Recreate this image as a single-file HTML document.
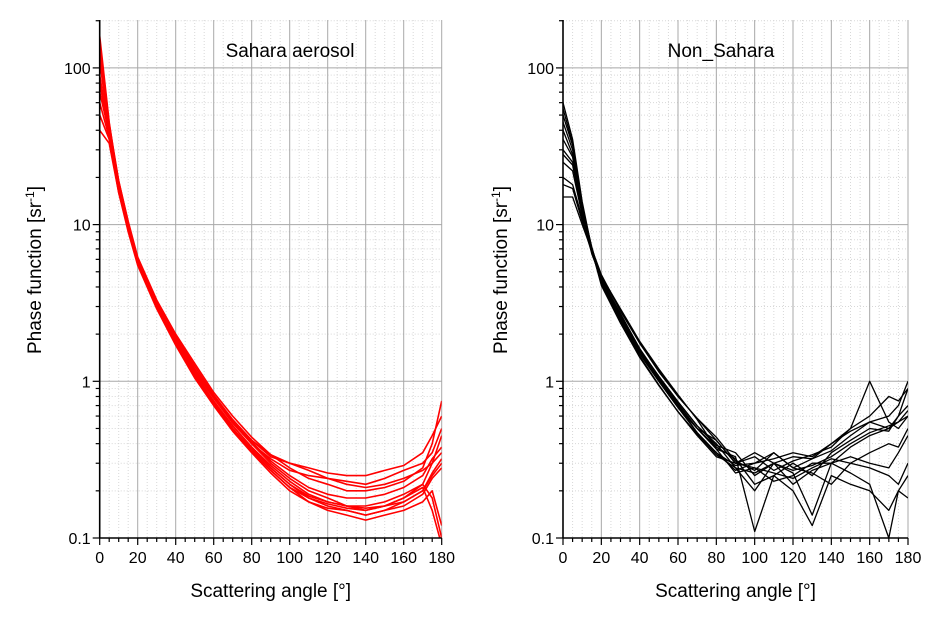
<!DOCTYPE html>
<html><head><meta charset="utf-8"><style>
body{margin:0;background:#fff}
svg{display:block;font-family:"Liberation Sans",Arial,sans-serif}
</style></head><body>
<svg id="c" width="947" height="624"></svg>
<script>
const angles=[0,5,10,15,20,30,40,50,60,70,80,90,100,110,120,130,140,150,160,170,175,180];
const xTicks=[0,20,40,60,80,100,120,140,160,180];
const yTicks=[0.1,1,10,100];
const yTickLabels=["0.1","1","10","100"];
const saharaSeries=[
[160,45,18,10,6,3.2,1.9,1.2,0.8,0.55,0.4,0.3,0.24,0.2,0.18,0.16,0.15,0.16,0.18,0.22,0.3,0.45],
[70,38,17,9.5,5.8,3.0,1.8,1.1,0.72,0.5,0.36,0.27,0.21,0.18,0.16,0.15,0.14,0.15,0.17,0.2,0.25,0.3],
[140,42,19,10.5,6.2,3.3,2.0,1.3,0.85,0.6,0.44,0.34,0.28,0.24,0.22,0.2,0.2,0.21,0.23,0.28,0.4,0.75],
[50,35,16,9,5.5,2.9,1.7,1.05,0.7,0.48,0.35,0.26,0.2,0.17,0.15,0.14,0.13,0.14,0.15,0.17,0.2,0.12],
[110,40,18,10,6,3.1,1.85,1.15,0.78,0.54,0.4,0.32,0.27,0.25,0.24,0.23,0.22,0.24,0.27,0.3,0.35,0.5],
[90,39,17.5,9.8,5.9,3.0,1.75,1.1,0.74,0.52,0.38,0.29,0.23,0.19,0.17,0.16,0.16,0.17,0.19,0.22,0.18,0.1],
[130,41,18.5,10.2,6.1,3.2,1.95,1.25,0.82,0.57,0.42,0.33,0.3,0.28,0.26,0.25,0.25,0.27,0.29,0.35,0.45,0.6],
[60,36,16.5,9.2,5.6,2.95,1.72,1.07,0.71,0.49,0.36,0.27,0.21,0.17,0.155,0.15,0.14,0.15,0.16,0.19,0.24,0.28],
[150,44,19,10.3,6,3.1,1.9,1.2,0.8,0.56,0.41,0.31,0.25,0.21,0.19,0.18,0.18,0.19,0.21,0.25,0.32,0.38],
[40,33,16,9.3,5.7,3.0,1.8,1.12,0.75,0.52,0.38,0.28,0.22,0.185,0.17,0.16,0.155,0.16,0.18,0.21,0.15,0.09],
[120,42,18,10,6,3.1,1.88,1.18,0.8,0.56,0.42,0.34,0.3,0.27,0.24,0.22,0.21,0.22,0.24,0.27,0.3,0.35],
[80,38,17,9.7,5.9,3.05,1.78,1.1,0.73,0.5,0.37,0.28,0.22,0.18,0.165,0.155,0.15,0.16,0.17,0.2,0.26,0.32]
];
const nonSaharaSeries=[
[60,35,14,7,4.3,2.4,1.45,0.95,0.64,0.46,0.34,0.28,0.26,0.3,0.27,0.29,0.33,0.4,0.47,0.52,0.55,0.65],
[30,25,12,6.5,4.5,2.7,1.6,1.05,0.72,0.5,0.38,0.32,0.22,0.25,0.3,0.25,0.35,0.42,0.5,0.48,0.6,0.9],
[20,18,11,7,4.8,2.8,1.75,1.18,0.8,0.58,0.42,0.3,0.28,0.26,0.24,0.28,0.32,0.3,0.28,0.25,0.22,0.3],
[45,30,13,7.2,4.4,2.55,1.55,1.02,0.7,0.47,0.35,0.27,0.3,0.35,0.28,0.32,0.36,0.45,0.55,0.6,0.7,1.0],
[15,15,10,6.8,4.7,2.9,1.8,1.2,0.82,0.57,0.37,0.33,0.11,0.25,0.2,0.12,0.25,0.22,0.2,0.15,0.2,0.25],
[35,27,12.5,6.8,4.2,2.45,1.5,1.0,0.68,0.47,0.35,0.29,0.3,0.32,0.35,0.33,0.4,0.48,0.55,0.5,0.6,0.7],
[25,22,11.5,7.1,4.5,2.7,1.62,1.07,0.74,0.52,0.39,0.35,0.25,0.3,0.22,0.27,0.3,0.26,0.22,0.1,0.2,0.18],
[50,32,13.5,6.9,4.1,2.35,1.42,0.94,0.64,0.45,0.33,0.3,0.33,0.27,0.31,0.34,0.38,0.5,1.0,0.55,0.5,0.6],
[18,17,10.5,6.6,4.6,2.85,1.75,1.15,0.8,0.58,0.44,0.31,0.27,0.35,0.28,0.26,0.22,0.3,0.35,0.4,0.38,0.5],
[40,28,12.8,7,4.4,2.58,1.58,1.04,0.71,0.5,0.37,0.26,0.28,0.23,0.25,0.3,0.3,0.38,0.45,0.5,0.55,0.6],
[28,24,12,6.7,4.5,2.65,1.6,1.08,0.74,0.52,0.4,0.28,0.2,0.3,0.26,0.14,0.3,0.33,0.3,0.28,0.35,0.45],
[55,33,13,7,4.3,2.5,1.5,1.0,0.68,0.5,0.42,0.3,0.35,0.3,0.33,0.32,0.4,0.5,0.6,0.8,0.75,0.9]
];
const NS="http://www.w3.org/2000/svg";
const svg=document.getElementById('c');
function mk(tag,attrs,parent){const e=document.createElementNS(NS,tag);for(const k in attrs)e.setAttribute(k,attrs[k]);(parent||svg).appendChild(e);return e;}
const yTop=20,yBot=538,decade=156.7;
function yS(v){return yBot-(Math.log10(v)+1)*decade;}
function panel(name,x0,x1,title,titleX,series,color,lw,yTitleX,clipId){
  const g=mk('g',{});
  
  
  const xS=a=>x0+(a/180)*(x1-x0);
  for(let a=5;a<180;a+=5){if(a%20===0)continue;const l=mk('line',{x1:xS(a),x2:xS(a),y1:yTop,y2:yBot,stroke:'#d8d8d8','stroke-dasharray':'1,2','stroke-width':1},g);}
  for(let d=-1;d<=2;d++)for(let m=2;m<=9;m++){const v=m*Math.pow(10,d);const y=yS(v);if(y<yTop)continue;const l=mk('line',{x1:x0,x2:x1,y1:y,y2:y,stroke:'#d8d8d8','stroke-dasharray':'1,2','stroke-width':1},g);}
  xTicks.forEach(a=>{if(a===0)return;const l=mk('line',{x1:xS(a),x2:xS(a),y1:yTop,y2:yBot,stroke:'#a8a8a8','stroke-width':1},g);});
  yTicks.forEach(v=>{const l=mk('line',{x1:x0,x2:x1,y1:yS(v),y2:yS(v),stroke:'#a8a8a8','stroke-width':1},g);});
  const cp=mk('clipPath',{id:clipId},g);mk('rect',{x:x0,y:yTop,width:x1-x0,height:yBot-yTop},cp);
  const sg=mk('g',{'clip-path':'url(#'+clipId+')'},g);
  series.forEach((s,i)=>{const d=s.map((v,j)=>(j?'L':'M')+xS(angles[j]).toFixed(1)+','+yS(v).toFixed(1)).join('');const p=mk('path',{d:d,fill:'none',stroke:color,'stroke-width':lw,'stroke-linejoin':'round'},sg);});
  const ax=mk('line',{x1:x0,x2:x0,y1:yTop,y2:yBot,stroke:'#000','stroke-width':1.6},g);
  const bx=mk('line',{x1:x0,x2:x1,y1:yBot,y2:yBot,stroke:'#000','stroke-width':1.6},g);
  for(let a=0;a<=180;a+=5){const l=mk('line',{x1:xS(a),x2:xS(a),y1:yBot,y2:yBot+(a%20===0?7:4),stroke:'#000','stroke-width':1.2},g);}
  xTicks.forEach(a=>{const t=mk('text',{x:xS(a),y:yBot+25,'text-anchor':'middle','font-size':16},g);t.textContent=a;});
  for(let d=-1;d<=2;d++)for(let m=1;m<=9;m++){const y=yS(m*Math.pow(10,d));if(y<yTop)continue;const l=mk('line',{x1:x0-(m===1?7:4),x2:x0,y1:y,y2:y,stroke:'#000','stroke-width':1.2},g);}
  yTicks.forEach((v,i)=>{const t=mk('text',{x:x0-9,y:yS(v)+6,'text-anchor':'end','font-size':16},g);t.textContent=yTickLabels[i];});
  const tt=mk('text',{x:titleX,y:57,'text-anchor':'middle','font-size':19},g);tt.textContent=title;
  const xt=mk('text',{x:(x0+x1)/2,y:597,'text-anchor':'middle','font-size':19},g);xt.textContent='Scattering angle [°]';
  const yt=mk('text',{x:0,y:0,'text-anchor':'middle','font-size':19,transform:'translate('+yTitleX+',270) rotate(-90)'},g);
  
  yt.appendChild(document.createTextNode('Phase function [sr'));
  const sup=mk('tspan',{dy:-7,'font-size':12},yt);sup.textContent='-1';
  const cl=mk('tspan',{dy:7},yt);cl.textContent=']';
}
panel('sahara-panel',99.7,441.7,'Sahara aerosol',290,saharaSeries,'#ff0000',1.6,41,'clipL');
panel('non-sahara-panel',563,908,'Non_Sahara',721,nonSaharaSeries,'#000000',1.3,507,'clipR');
</script>
</body></html>
